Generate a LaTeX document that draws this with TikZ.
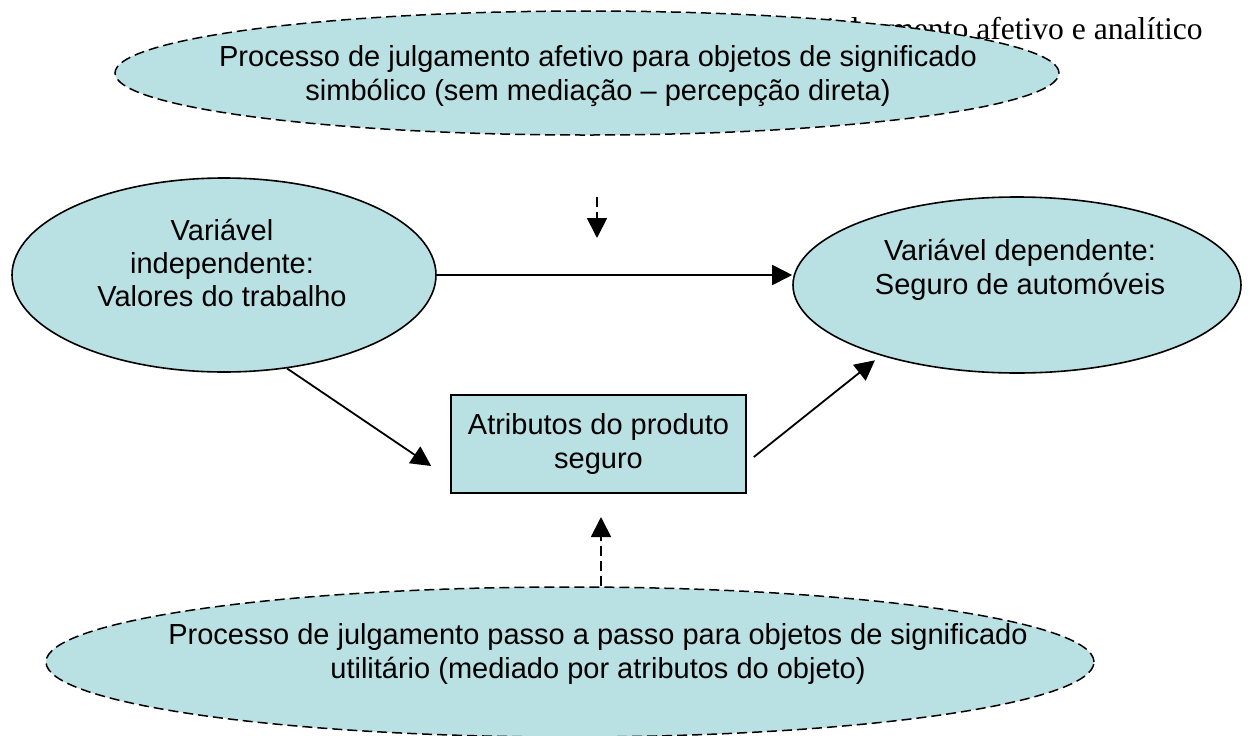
\documentclass[tikz,border=0pt]{standalone}
\usepackage{fontspec}
\setmainfont{Liberation Sans}
\newfontfamily\captionface{Liberation Serif}
\usetikzlibrary{arrows.meta,shapes.geometric}
\definecolor{boxfill}{RGB}{185,224,227}
\tikzset{
  procell/.style={ellipse,draw,dash pattern=on 5pt off 2.5pt,line width=0.75pt,fill=boxfill,inner sep=0pt},
  varell/.style={ellipse,draw,line width=0.8pt,fill=boxfill,inner sep=0pt},
  attrbox/.style={rectangle,draw,line width=0.8pt,fill=boxfill,align=center,inner sep=0pt,
    font=\fontsize{14.5}{16.7}\selectfont},
  lbl/.style={align=center,inner sep=0pt,font=\fontsize{14.5}{16.7}\selectfont},
  arr/.style={-{Triangle[length=10pt,width=10pt]},line width=0.9pt},
  dasharr/.style={arr,dash pattern=on 5pt off 2.5pt}
}
\begin{document}
\begin{tikzpicture}[x=0.5pt,y=-0.5pt]
   \useasboundingbox (0,0) rectangle (1250,735);
   \node[anchor=base east,inner sep=0pt,font=\captionface\fontsize{15.8}{18}\selectfont]
     (caption) at (1203,39) {julgamento afetivo e analítico};
   \node[procell,minimum width=472pt,minimum height=62pt] (symb) at (587,73) {};
   \node[lbl] (symbtxt) at (598,76)
     {Processo de julgamento afetivo para objetos de significado\\
      simbólico (sem mediação -- percepção direta)};
   \node[varell,minimum width=212pt,minimum height=97pt] (indep) at (224,275) {};
   \node[lbl] (indeptxt) at (222,263) {Variável\\ independente:\\ Valores do trabalho};
   \node[varell,minimum width=224pt,minimum height=88pt] (dep) at (1017,285) {};
   \node[lbl] (deptxt) at (1020,270) {Variável dependente:\\ Seguro de automóveis};
   \node[attrbox,minimum width=147.5pt,minimum height=49pt] (attr) at (598.5,444)
     {Atributos do produto\\ seguro};
   \node[procell,minimum width=524pt,minimum height=75pt] (util) at (570,662) {};
   \node[lbl] (utiltxt) at (598,654)
     {Processo de julgamento passo a passo para objetos de significado\\
      utilitário (mediado por atributos do objeto)};
   \coordinate (symbA) at (597,197);
   \coordinate (symbB) at (597,238);
   \coordinate (utilB) at (601,517);
   \draw[dasharr] (symbA) -- (symbB);
   \draw[arr] (indep.east) -- (indep.east -| dep.west);
   \draw[arr] (indep.-56) -- ([xshift=-9.5pt,yshift=-11pt]attr.west);
   \draw[arr] ([xshift=3.5pt,yshift=-6.5pt]attr.east) -- ([xshift=-4pt,yshift=-2pt]dep.208);
   \draw[dasharr] (util.north -| utilB) -- (utilB);
\end{tikzpicture}
\end{document}
